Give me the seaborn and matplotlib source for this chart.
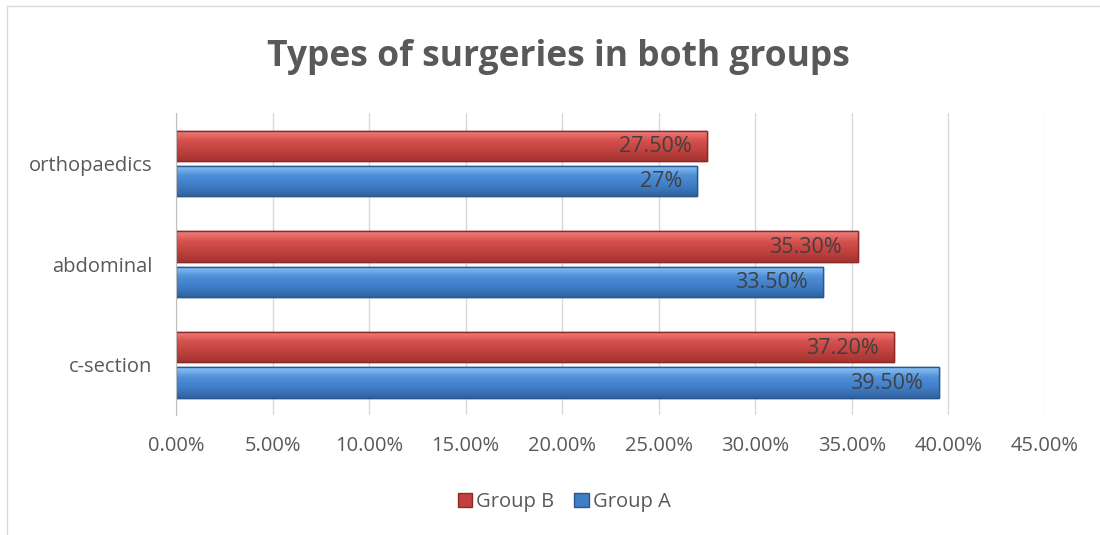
import numpy as np
import pandas as pd
import matplotlib.pyplot as plt
import matplotlib.patches as mpatches
from matplotlib.colors import LinearSegmentedColormap
import seaborn as sns

# 데이터
categories = ['orthopaedics', 'abdominal', 'c-section']
group_b = [27.5, 35.3, 37.2]
group_a = [27.0, 33.5, 39.5]
labels_b = ['27.50%', '35.30%', '37.20%']
labels_a = ['27%', '33.50%', '39.50%']
x_ticks = [0, 5, 10, 15, 20, 25, 30, 35, 40, 45]

df = pd.DataFrame({
    'Type': categories * 2,
    'Value': group_b + group_a,
    'Group': ['Group B'] * 3 + ['Group A'] * 3,
    'Label': labels_b + labels_a,
})

sns.set_style('white')
plt.rcParams['font.family'] = ['Open Sans', 'DejaVu Sans']

fig = plt.figure(figsize=(11, 5.35), dpi=100)
ax = fig.add_axes([0.16, 0.224, 0.79, 0.565])

palette = {'Group B': '#C0413E', 'Group A': '#3F7DC7'}
edges = {'Group B': '#8C2A28', 'Group A': '#2A5790'}
# 엑셀 스타일 그라데이션 (위 -> 아래)
grads = {
    'Group B': ['#F28080', '#D5514D', '#C0413E', '#A33431'],
    'Group A': ['#8DC3F7', '#4F8FD8', '#3F7DC7', '#31649F'],
}

sns.barplot(data=df, y='Type', x='Value', hue='Group', order=categories,
            hue_order=['Group B', 'Group A'], palette=palette, width=0.7,
            orient='h', ax=ax, saturation=1, legend=False)

ax.set_xlim(0, 45)
ylim = ax.get_ylim()

for cont, grp in zip(ax.containers, ['Group B', 'Group A']):
    cmap = LinearSegmentedColormap.from_list(grp, grads[grp])
    labs = df[df['Group'] == grp].set_index('Type').loc[categories, 'Label']
    for bar, lab in zip(cont, labs):
        yc = bar.get_y() + bar.get_height() / 2
        h = 0.30
        bar.set_y(yc - h / 2)
        bar.set_height(h)
        bar.set_edgecolor(edges[grp])
        bar.set_linewidth(1.0)
        w = bar.get_width()
        im = ax.imshow(np.linspace(0, 1, 64).reshape(-1, 1), cmap=cmap,
                       aspect='auto', extent=[0, w, yc + h / 2, yc - h / 2],
                       origin='upper', zorder=bar.get_zorder() + 0.1)
        im.set_clip_path(bar)
        ax.add_patch(mpatches.Rectangle((0, yc - h / 2), w, h, fill=False,
                                        edgecolor=edges[grp], linewidth=1.0,
                                        zorder=bar.get_zorder() + 0.2))
        ax.text(w - 0.8, yc + 0.01, lab, ha='right', va='center',
                fontsize=15.5, color='#404040', zorder=5)

ax.set_xlim(0, 45)
ax.set_ylim(ylim)
ax.set_xticks(x_ticks)
ax.set_xticklabels([f'{t:.2f}%' for t in x_ticks])
ax.tick_params(axis='both', length=0, labelsize=14.5, labelcolor='#595959')
ax.tick_params(axis='x', pad=15)
ax.tick_params(axis='y', pad=17)
ax.xaxis.grid(True, color='#D9D9D9', linewidth=1)
ax.set_axisbelow(True)
ax.set_xlabel('')
ax.set_ylabel('')
for s in ['top', 'right', 'bottom']:
    ax.spines[s].set_visible(False)
ax.spines['left'].set_color('#BFBFBF')

fig.suptitle('Types of surgeries in both groups', x=0.508, y=0.927,
             fontsize=25.5, fontweight='bold', color='#595959')

handles = [mpatches.Patch(facecolor=palette[g], edgecolor=edges[g], label=g)
           for g in ['Group B', 'Group A']]
fig.legend(handles=handles, loc='center', bbox_to_anchor=(0.513, 0.062), ncol=2,
           frameon=False, fontsize=14.5, labelcolor='#595959',
           handlelength=0.7, handleheight=0.7, handletextpad=0.2, columnspacing=1.0)

# 차트 테두리
fig.patches.append(mpatches.Rectangle((7 / 1100, -0.01), 1.0, 1 - 6 / 535 + 0.01,
                                      transform=fig.transFigure, fill=False,
                                      edgecolor='#D9D9D9', linewidth=1))

plt.savefig('out.png', dpi=100)
plt.close()
